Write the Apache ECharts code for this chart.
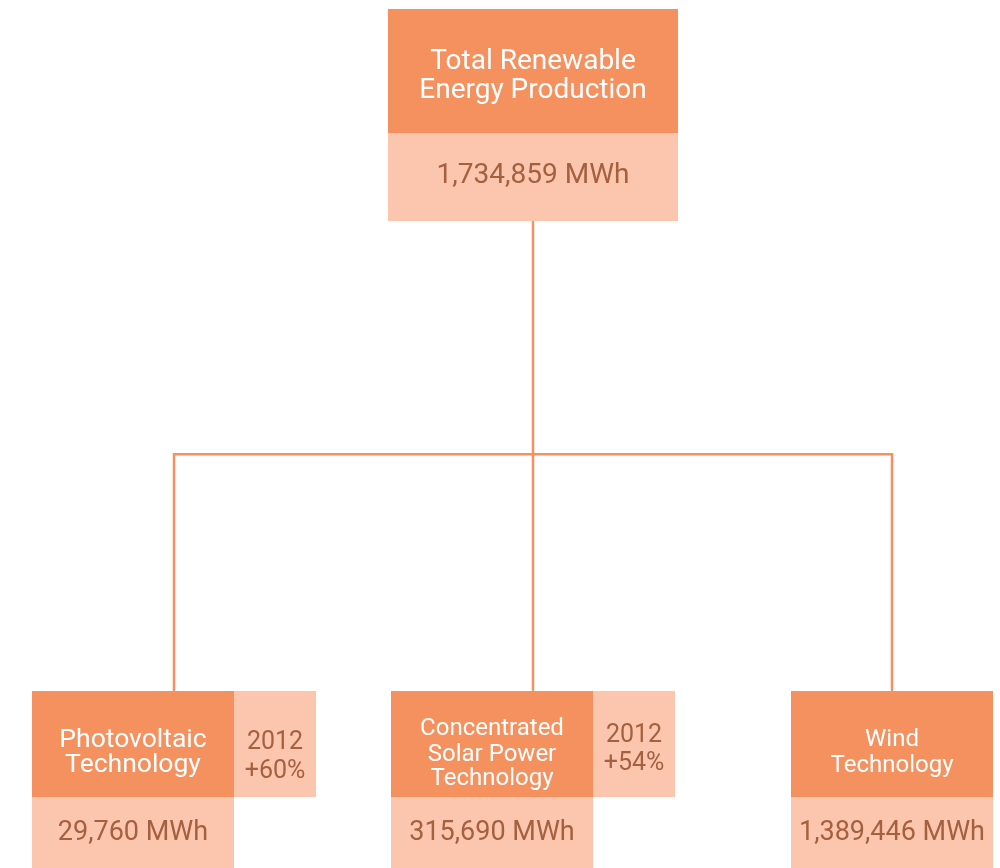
<!DOCTYPE html>
<html>
<head>
<meta charset="utf-8">
<title>Total Renewable Energy Production</title>
<script src="https://cdn.jsdelivr.net/npm/echarts@6/dist/echarts.min.js"></script>
<style>
html, body { margin: 0; padding: 0; background: #fff; }
#chart { width: 1000px; height: 868px; }
</style>
</head>
<body>
<div id="chart"></div>
<script>
// data
var rootTitle = ['Total Renewable', 'Energy Production'];
var rootValue = 1734859;
var techNames = [
	['Photovoltaic', 'Technology'],
	['Concentrated', 'Solar Power', 'Technology'],
	['Wind', 'Technology']
];
var techValues = [29760, 315690, 1389446];
var growthYear = ['2012', '2012', ''];
var growthPct = ['+60%', '+54%', ''];
var unit = 'MWh';

// styles
var dark = '#F5915F';
var light = '#FCC6AE';
var brown = '#A4603F';
var font = 'Roboto';
var textShift = 3.5;

// box layout (line heights and text centre offsets, px)
var rootRows = [{h: 63, mid: 49.3}, {h: 61, mid: 15.5}];
var rootValueRow = {h: 88, mid: 39};
var leafLayout = [
	{size: 26.5, rows: [{h: 59, title: 46, side: 48}, {h: 47, title: 12, side: 18.5}]},
	{size: 24, rows: [{h: 54, title: 34.5, side: 41}, {h: 29, title: 6, side: 15.5}, {h: 23, title: 1, side: 4}]},
	{size: 24, rows: [{h: 59, title: 45}, {h: 47, title: 12.5}]}
];
var leafValueRow = {h: 71, mid: 32.5};
var rootW = 290, titleW = 202, sideW = 82;

function fmt(v) {
	return v.toLocaleString('en-US') + ' ' + unit;
}

// turns rows of tokens into one rich label
function buildLabel(lines, position) {
	var rich = {};
	var rows = [];
	lines.forEach(function (line, i) {
		var parts = [];
		line.tokens.forEach(function (t, j) {
			var key = 'r' + i + 'c' + j;
			var pad = t.mid + textShift - 2;
			rich[key] = {
				width: t.w,
				height: 4,
				lineHeight: line.h,
				padding: [pad, 0, line.h - 4 - pad, 0],
				color: t.color || '#fff',
				fontSize: t.size || 24,
				fontFamily: font,
				align: 'center'
			};
			if (t.bg) rich[key].backgroundColor = t.bg;
			parts.push('{' + key + '|' + (t.text || ' ') + '}');
		});
		rows.push(parts.join(''));
	});
	var str = rows.join('\n');
	return {
		show: true,
		position: position,
		distance: 0,
		formatter: function () { return str; },
		rich: rich
	};
}

var rootLines = rootTitle.map(function (t, i) {
	return {h: rootRows[i].h, tokens: [{text: t, w: rootW, mid: rootRows[i].mid, bg: dark, size: 28}]};
});
rootLines.push({h: rootValueRow.h, tokens: [{text: fmt(rootValue), w: rootW, mid: rootValueRow.mid, bg: light, color: brown, size: 28}]});

var children = techNames.map(function (names, i) {
	var lay = leafLayout[i];
	var hasSide = growthYear[i] !== '';
	var side = [growthYear[i], growthPct[i]];
	var lines = names.map(function (n, r) {
		var row = lay.rows[r];
		var tokens = [{text: n, w: titleW, mid: row.title, bg: dark, size: lay.size}];
		if (hasSide) tokens.push({text: side[r] || ' ', w: sideW, mid: row.side, bg: light, color: brown, size: 25});
		return {h: row.h, tokens: tokens};
	});
	var vt = [{text: fmt(techValues[i]), w: titleW, mid: leafValueRow.mid, bg: light, color: brown, size: 27}];
	if (hasSide) vt.push({text: ' ', w: sideW, mid: leafValueRow.mid});
	lines.push({h: leafValueRow.h, tokens: vt});
	return {
		name: names.join(' '),
		value: techValues[i],
		label: buildLabel(lines, 'bottom')
	};
});

var treeData = [{
	name: rootTitle.join(' '),
	value: rootValue,
	label: buildLabel(rootLines, 'top'),
	children: children
}];

var myChart = echarts.init(document.getElementById('chart'));
myChart.setOption({
	animation: false,
	series: [{
		type: 'tree',
		data: treeData,
		orient: 'TB',
		layout: 'orthogonal',
		left: -5.5,
		width: 1077,
		top: 222,
		height: 468,
		symbol: 'rect',
		symbolSize: 2,
		itemStyle: {color: dark, borderWidth: 0},
		lineStyle: {color: dark, width: 2.5},
		edgeShape: 'polyline',
		edgeForkPosition: '49.6%',
		expandAndCollapse: false,
		roam: false,
		silent: true,
		emphasis: {disabled: true}
	}]
});
</script>
</body>
</html>
